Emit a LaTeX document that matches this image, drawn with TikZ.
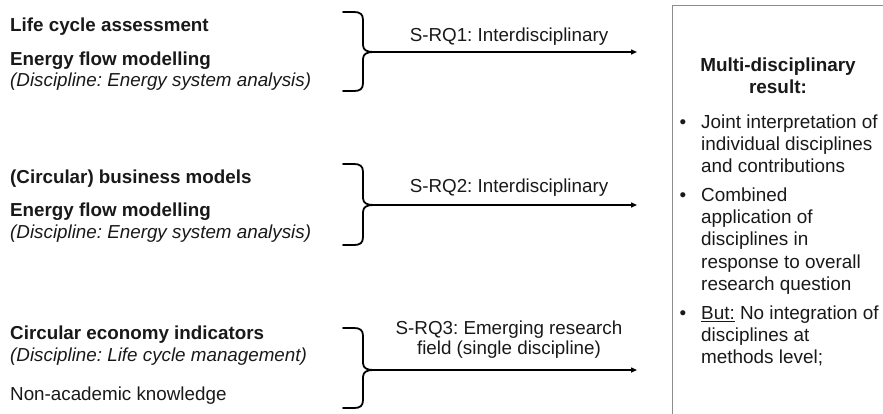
\documentclass[tikz,border=0pt]{standalone}
\usepackage{fontspec}
\setmainfont{Liberation Sans}
\usetikzlibrary{arrows.meta}
\frenchspacing
\begin{document}
\begin{tikzpicture}[x=1pt,y=-1pt,
  txt/.style={font=\fontsize{18.8}{18.8}\selectfont, inner sep=0pt, text=black!90},
  lefttxt/.style={txt, anchor=west},
  boldtxt/.style={lefttxt, font=\fontsize{18.8}{18.8}\selectfont\bfseries},
  itxt/.style={lefttxt, font=\fontsize{18.8}{18.8}\selectfont\itshape},
  qlabel/.style={txt, align=center, font=\fontsize{18.8}{20}\selectfont},
  boxtxt/.style={txt, font=\fontsize{18.9}{22.3}\selectfont},
  bullettxt/.style={boxtxt, anchor=north west, align=left},
  bulletmark/.style={boxtxt, anchor=base},
  bracestyle/.style={line width=1.8pt, line cap=round, line join=round},
  flow/.style={line width=1.4pt, -{Triangle[length=6pt,width=5pt]}},
  resultbox/.style={draw=black!45, line width=0.9pt}
]
\useasboundingbox (0,0) rectangle (883,413);

% right-pointing curly brace: left x, top y, tip y, bottom y, tip name
\newcommand\drawbrace[5]{%
  \draw[bracestyle] (#1,#2) -- (#1+11,#2)
    .. controls (#1+17,#2) and (#1+20,#2+2) .. (#1+20,#2+8)
    -- (#1+20,#3-7) .. controls (#1+20,#3-2) and (#1+24,#3) .. (#1+30,#3)
    .. controls (#1+24,#3) and (#1+20,#3+2) .. (#1+20,#3+7)
    -- (#1+20,#4-8) .. controls (#1+20,#4-2) and (#1+17,#4) .. (#1+11,#4)
    -- (#1,#4);
  \coordinate (#5) at (#1+30,#3);}

% result box, open towards right and bottom
\draw[resultbox] (672,430) -- (672,5) -- (900,5);

% group 1
\node[boldtxt] (lca) at (10,27) {Life cycle assessment};
\node[boldtxt] (efm1) at (10,61) {Energy flow modelling};
\node[itxt] (esa1) at (10,82) {(Discipline: Energy system analysis)};
\drawbrace{343}{12}{52}{91}{tip1}
\coordinate (end1) at (637,52);
\draw[flow] (tip1) -- (end1);
\node[qlabel] (q1) at (509,37) {S-RQ1: Interdisciplinary};

% group 2
\node[boldtxt] (cbm) at (10,179) {(Circular) business models};
\node[boldtxt] (efm2) at (10,212) {Energy flow modelling};
\node[itxt] (esa2) at (10,234) {(Discipline: Energy system analysis)};
\drawbrace{343}{164}{205}{245}{tip2}
\coordinate (end2) at (637,205);
\draw[flow] (tip2) -- (end2);
\node[qlabel] (q2) at (509,188) {S-RQ2: Interdisciplinary};

% group 3
\node[boldtxt] (cei) at (10,335) {Circular economy indicators};
\node[itxt] (lcm) at (10,357) {(Discipline: Life cycle management)};
\node[lefttxt] (nak) at (10,396) {Non-academic knowledge};
\drawbrace{343}{328}{370}{408}{tip3}
\coordinate (end3) at (637,370);
\draw[flow] (tip3) -- (end3);
\node[qlabel] (q3) at (509,340) {S-RQ3: Emerging research\\field (single discipline)};

% result text
\node[boxtxt, anchor=north, align=center, font=\fontsize{18.9}{22}\selectfont\bfseries] (res) at (778,57.5)
  {Multi-disciplinary\\result:};
\node[bulletmark] (b1) at (683,128) {\textbullet};
\node[bullettxt] (t1) at (701,114.3) {Joint interpretation of\\individual disciplines\\and contributions};
\node[bulletmark] (b2) at (683,201) {\textbullet};
\node[bullettxt] (t2) at (701,187.3) {Combined\\application of\\disciplines in\\response to overall\\research question};
\node[bulletmark] (b3) at (683,319) {\textbullet};
\node[bullettxt] (t3) at (701,305.3) {\underline{But:} No integration of\\disciplines at\\methods level;};
\end{tikzpicture}
\end{document}
